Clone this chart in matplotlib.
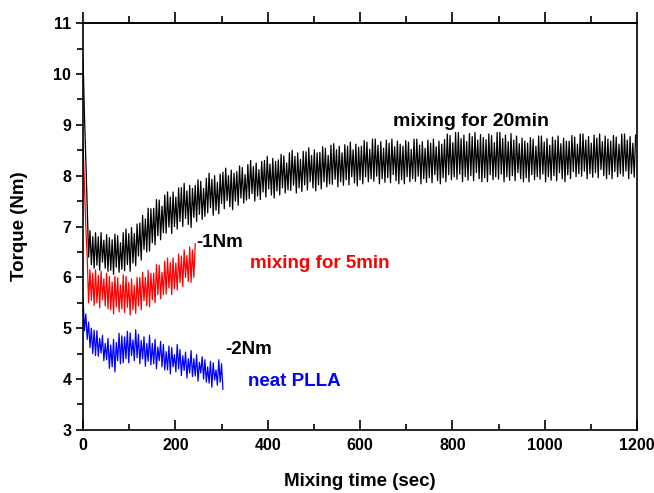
import numpy as np
import matplotlib.pyplot as plt

# torque readings, sampled every 3 s (alternating trough / peak of the oscillation)
dt = 3

black_20min = [
    10.30, 9.20, 8.30, 7.40, 6.40, 6.92, 6.25, 6.80, 6.18, 6.88,
    6.24, 6.80, 6.14, 6.88, 6.30, 6.73, 6.18, 6.84, 6.12, 6.78,
    6.14, 6.74, 6.06, 6.85, 6.20, 6.82, 6.10, 6.68, 6.16, 6.88,
    6.13, 6.95, 6.25, 6.86, 6.12, 6.98, 6.28, 6.86, 6.23, 7.05,
    6.42, 7.07, 6.34, 7.22, 6.55, 7.15, 6.50, 7.36, 6.52, 7.35,
    6.68, 7.36, 6.64, 7.53, 6.82, 7.52, 6.74, 7.40, 6.88, 7.62,
    6.87, 7.68, 6.99, 7.58, 6.86, 7.68, 7.00, 7.58, 6.95, 7.76,
    7.10, 7.77, 7.00, 7.85, 7.16, 7.70, 7.04, 7.81, 6.98, 7.75,
    7.18, 7.81, 7.10, 7.92, 7.24, 7.89, 7.14, 7.75, 7.20, 7.95,
    7.27, 8.05, 7.37, 7.93, 7.22, 8.00, 7.32, 7.87, 7.25, 8.03,
    7.45, 8.07, 7.35, 8.15, 7.51, 8.00, 7.39, 8.11, 7.33, 8.05,
    7.50, 8.08, 7.42, 8.19, 7.56, 8.16, 7.46, 8.02, 7.52, 8.22,
    7.55, 8.30, 7.65, 8.18, 7.50, 8.25, 7.60, 8.12, 7.53, 8.28,
    7.68, 8.30, 7.58, 8.38, 7.74, 8.23, 7.62, 8.34, 7.56, 8.28,
    7.70, 8.31, 7.62, 8.42, 7.76, 8.39, 7.66, 8.25, 7.72, 8.45,
    7.71, 8.50, 7.81, 8.38, 7.66, 8.45, 7.76, 8.32, 7.69, 8.48,
    7.82, 8.47, 7.72, 8.55, 7.88, 8.40, 7.76, 8.51, 7.70, 8.45,
    7.82, 8.46, 7.74, 8.57, 7.88, 8.54, 7.78, 8.40, 7.84, 8.60,
    7.83, 8.63, 7.93, 8.51, 7.78, 8.58, 7.88, 8.45, 7.81, 8.61,
    7.92, 8.58, 7.82, 8.66, 7.98, 8.51, 7.86, 8.62, 7.80, 8.56,
    7.92, 8.58, 7.84, 8.69, 7.98, 8.66, 7.88, 8.52, 7.94, 8.72,
    7.89, 8.72, 7.99, 8.60, 7.84, 8.67, 7.94, 8.54, 7.87, 8.70,
    7.96, 8.64, 7.86, 8.72, 8.02, 8.57, 7.90, 8.68, 7.84, 8.62,
    7.92, 8.58, 7.84, 8.69, 7.98, 8.66, 7.88, 8.52, 7.94, 8.72,
    7.89, 8.72, 7.99, 8.60, 7.84, 8.67, 7.94, 8.54, 7.87, 8.70,
    7.96, 8.64, 7.86, 8.72, 8.02, 8.57, 7.90, 8.68, 7.84, 8.62,
    7.96, 8.71, 7.88, 8.82, 8.02, 8.79, 7.92, 8.65, 7.98, 8.85,
    7.93, 8.85, 8.03, 8.73, 7.88, 8.80, 7.98, 8.67, 7.91, 8.83,
    8.00, 8.77, 7.90, 8.85, 8.06, 8.70, 7.94, 8.81, 7.88, 8.75,
    7.96, 8.71, 7.88, 8.82, 8.02, 8.79, 7.92, 8.65, 7.98, 8.85,
    7.93, 8.85, 8.03, 8.73, 7.88, 8.80, 7.98, 8.67, 7.91, 8.83,
    8.00, 8.70, 7.90, 8.78, 8.06, 8.63, 7.94, 8.74, 7.88, 8.68,
    7.96, 8.64, 7.88, 8.75, 8.02, 8.72, 7.92, 8.58, 7.98, 8.78,
    7.93, 8.78, 8.03, 8.66, 7.88, 8.73, 7.98, 8.60, 7.91, 8.76,
    8.00, 8.70, 7.90, 8.78, 8.06, 8.63, 7.94, 8.74, 7.88, 8.68,
    8.02, 8.68, 7.94, 8.79, 8.08, 8.76, 7.98, 8.62, 8.04, 8.82,
    7.99, 8.82, 8.09, 8.70, 7.94, 8.77, 8.04, 8.64, 7.97, 8.80,
    8.06, 8.74, 7.96, 8.82, 8.12, 8.67, 8.00, 8.78, 7.94, 8.72,
    8.02, 8.68, 7.94, 8.79, 8.08, 8.76, 7.98, 8.62, 8.04, 8.82,
    7.99, 8.82, 8.09, 8.70, 7.94, 8.77, 8.04, 8.64, 7.97, 8.80,
]

red_5min = [
    8.65, 7.80, 7.00, 6.40, 5.50, 6.15, 5.55, 6.08, 5.45, 6.15,
    5.50, 6.04, 5.40, 6.12, 5.56, 5.97, 5.44, 6.08, 5.38, 6.02,
    5.36, 5.91, 5.28, 6.02, 5.42, 5.99, 5.32, 5.85, 5.38, 6.05,
    5.31, 6.02, 5.41, 5.90, 5.26, 5.97, 5.36, 5.84, 5.29, 6.00,
    5.44, 6.00, 5.36, 6.10, 5.54, 6.00, 5.44, 6.14, 5.42, 6.08,
    5.56, 6.08, 5.50, 6.25, 5.66, 6.24, 5.58, 6.10, 5.66, 6.32,
    5.67, 6.38, 5.79, 6.29, 5.66, 6.38, 5.78, 6.28, 5.75, 6.46,
    5.90, 6.42, 5.82, 6.54, 6.00, 6.43, 5.92, 6.60, 5.90, 6.54,
    6.00, 6.66,
]

blue_neat = [
    5.60, 4.95, 5.28, 4.78, 5.12, 4.62, 5.00, 4.50, 4.96, 4.46,
    4.95, 4.45, 4.80, 4.51, 4.86, 4.36, 4.70, 4.38, 4.80, 4.21,
    4.67, 4.24, 4.78, 4.14, 4.72, 4.36, 4.90, 4.30, 4.85, 4.32,
    4.83, 4.40, 4.94, 4.32, 4.91, 4.46, 4.77, 4.36, 4.97, 4.42,
    4.88, 4.30, 4.76, 4.40, 4.83, 4.25, 4.70, 4.35, 4.86, 4.28,
    4.70, 4.30, 4.78, 4.20, 4.63, 4.36, 4.74, 4.24, 4.68, 4.18,
    4.54, 4.18, 4.65, 4.10, 4.62, 4.24, 4.48, 4.14, 4.68, 4.20,
    4.58, 4.07, 4.46, 4.17, 4.53, 4.02, 4.40, 4.12, 4.56, 4.05,
    4.40, 4.06, 4.48, 3.96, 4.33, 4.12, 4.44, 4.00, 4.38, 3.94,
    4.24, 3.92, 4.35, 3.84, 4.32, 3.98, 4.18, 3.88, 4.38, 3.94,
    4.30, 3.80,
]

xticks = [0, 200, 400, 600, 800, 1000, 1200]
yticks = [3, 4, 5, 6, 7, 8, 9, 10, 11]

plt.rcParams['font.family'] = ['Liberation Sans', 'DejaVu Sans']
plt.rcParams['font.weight'] = 'bold'


def main():
    fig = plt.figure(figsize=(6.54, 4.93), dpi=100)
    ax = fig.add_axes([0.127, 0.128, 0.847, 0.825])

    for vals, col in [(black_20min, 'black'), (red_5min, 'red'), (blue_neat, 'blue')]:
        t = np.arange(len(vals)) * dt
        ax.plot(t, vals, color=col, linewidth=0.9)

    ax.set_xlim(0, 1200)
    ax.set_ylim(3, 11)
    ax.set_xticks(xticks)
    ax.set_yticks(yticks)
    ax.set_xticks(np.arange(100, 1200, 200), minor=True)
    ax.set_yticks(np.arange(3.5, 11, 1), minor=True)

    ax.tick_params(axis='x', which='major', labelsize=11.5, width=1.2, length=7, direction='in', pad=6)
    ax.tick_params(axis='x', which='minor', width=1.2, length=4, direction='in')
    ax.tick_params(axis='y', which='major', labelsize=11.5, width=1.2, length=5, direction='out')
    ax.tick_params(axis='y', which='minor', width=1.2, length=4, direction='out')
    for lab in ax.get_xticklabels() + ax.get_yticklabels():
        lab.set_fontweight('bold')
    for sp in ax.spines.values():
        sp.set_linewidth(1.2)

    # top axis: ticks pointing outward, no labels
    top = ax.secondary_xaxis('top')
    top.set_xticks(xticks)
    top.set_xticks(np.arange(100, 1200, 200), minor=True)
    top.tick_params(which='major', direction='out', length=8, width=1.2, labeltop=False)
    top.tick_params(which='minor', direction='out', length=5, width=1.2)
    top.spines['top'].set_linewidth(1.2)

    ax.set_xlabel('Mixing time (sec)', fontsize=13.5, fontweight='bold', labelpad=14)
    ax.set_ylabel('Torque (Nm)', fontsize=13.5, fontweight='bold', labelpad=18)

    ax.text(840, 9.07, 'mixing for 20min', color='black', fontsize=14, fontweight='bold', ha='center', va='center')
    ax.text(245, 6.68, '-1Nm', color='black', fontsize=13.5, fontweight='bold', ha='left', va='center')
    ax.text(362, 6.28, 'mixing for 5min', color='red', fontsize=13.5, fontweight='bold', ha='left', va='center')
    ax.text(307, 4.59, '-2Nm', color='black', fontsize=13.5, fontweight='bold', ha='left', va='center')
    ax.text(357, 3.96, 'neat PLLA', color='blue', fontsize=13.5, fontweight='bold', ha='left', va='center')

    fig.savefig('out.png', dpi=100)


if __name__ == "__main__":
    main()
